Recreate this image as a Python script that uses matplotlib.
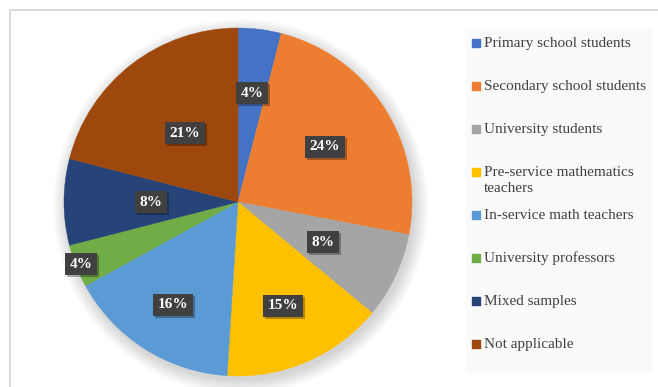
import matplotlib
matplotlib.use("Agg")
import matplotlib.pyplot as plt
import matplotlib.patheffects as pe
import numpy as np
from matplotlib.patches import Rectangle, Circle

# Share of studies by sample type
categories = [
    "Primary school students",
    "Secondary school students",
    "University students",
    "Pre-service mathematics\nteachers",
    "In-service math teachers",
    "University professors",
    "Mixed samples",
    "Not applicable",
]
shares = [4, 24, 8, 15, 16, 4, 8, 21]

colors = ["#4472C4", "#ED7D31", "#A5A5A5", "#FFC000",
          "#5B9BD5", "#70AD47", "#264478", "#9E480E"]
# how far out each percentage box sits (fraction of radius)
label_dist = [0.63, 0.59, 0.54, 0.65, 0.70, 0.97, 0.50, 0.50]

W, H = 658, 387
fig = plt.figure(figsize=(W / 100, H / 100), dpi=100)
plt.rcParams['font.family'] = ['Liberation Serif', 'DejaVu Serif']

# outer chart frame
fig.patches.append(Rectangle((10 / W, -0.1), 1.2, 1 - 10 / H + 0.1,
                             transform=fig.transFigure, facecolor="none",
                             edgecolor="#D6D6D6", linewidth=1.2, zorder=-1))

# pie axes
cx, cy, r = 238, 202, 174
ax = fig.add_axes([(cx - r) / W, (H - cy - r) / H, 2 * r / W, 2 * r / H])

# soft drop shadow under the pie
for k in range(14):
    ax.add_patch(Circle((0.015, -0.025), 1.0 + 0.006 * k, facecolor="black",
                        alpha=0.012, linewidth=0, zorder=0, clip_on=False))

wedges, _ = ax.pie(shares, colors=colors, startangle=90, counterclock=False,
                   radius=1.0, wedgeprops=dict(linewidth=0.3, antialiased=True))
for w, c in zip(wedges, colors):
    w.set_edgecolor(c)
    w.set_zorder(2)
    w.set_clip_on(False)
ax.set_xlim(-1, 1)
ax.set_ylim(-1, 1)
ax.axis("off")

total = sum(shares)
cum = np.cumsum([0] + shares)
for i, v in enumerate(shares):
    mid = 2 * np.pi * (cum[i] + v / 2) / total
    x = label_dist[i] * np.sin(mid)
    y = label_dist[i] * np.cos(mid)
    t = ax.text(x, y, f"{v}%", ha="center", va="center", fontsize=11,
                fontweight="bold", color="white", zorder=5,
                bbox=dict(boxstyle="square,pad=0.3", facecolor="#404040",
                          edgecolor="none"))
    t.get_bbox_patch().set_path_effects([
        pe.SimplePatchShadow(offset=(1.5, -1.5), shadow_rgbFace="black", alpha=0.3),
        pe.Normal()])

# legend panel
lax = fig.add_axes([0, 0, 1, 1], facecolor="none")
lax.set_xlim(0, W)
lax.set_ylim(H, 0)
lax.axis("off")
lax.add_patch(Rectangle((466, 29), 186, 344, facecolor="#FAFAFA",
                        edgecolor="none", zorder=0))
legend_y = 42.5 + 43 * np.arange(len(categories))
for lab, col, ly in zip(categories, colors, legend_y):
    lax.scatter([475.5], [ly], marker="s", s=28, color=col, zorder=2)
    first, *rest = lab.split("\n")
    lax.text(483.5, ly + 4.5, first, ha="left", va="baseline", fontsize=11,
             color="#404040", zorder=2)
    for j, line in enumerate(rest, start=1):
        lax.text(483.5, ly + 4.5 + 16 * j, line, ha="left", va="baseline",
                 fontsize=11, color="#404040", zorder=2)

fig.savefig("out.png", dpi=100)
